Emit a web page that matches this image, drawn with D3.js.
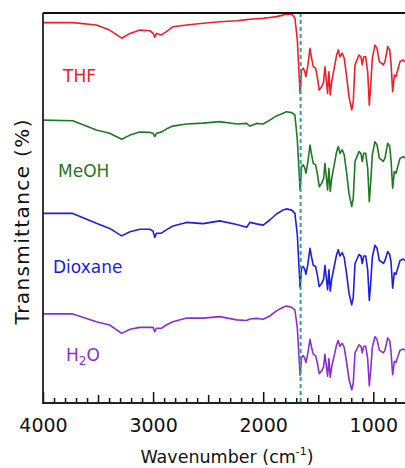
<!DOCTYPE html>
<html>
<head>
	<script type="text/javascript" src="https://cdn.jsdelivr.net/npm/d3@7/dist/d3.min.js"></script>
	<style type="text/css">
		body { margin: 0; background: #fff; }
		text { font-family: "DejaVu Sans", sans-serif; }
		.spectrum { fill: none; stroke-width: 1.6px; stroke-linejoin: round; }
	</style>
</head>
<body>
<script type="text/javascript">

var wavenumbers = [4000, 3730, 3515, 3395, 3285, 3210, 3120, 3030, 3000, 2985, 2970, 2925, 2880, 2820, 2695, 2545, 2395, 2240, 2150, 2120, 2060, 2000, 1940, 1880, 1820, 1790, 1740, 1712, 1690, 1665,
	1651, 1636, 1621, 1612, 1596, 1575, 1560, 1545, 1524, 1509, 1491, 1469, 1451, 1439, 1427, 1415, 1403, 1391, 1378, 1355, 1333, 1318, 1303, 1282, 1264, 1242, 1221, 1196, 1182, 1166,
	1142, 1130, 1112, 1100, 1087, 1069, 1051, 1036, 1021, 1009, 985, 966, 945, 924, 909, 894, 869, 851, 839, 824, 809, 794, 778, 757, 727, 712];

var thf = [126.8, 126.8, 126.0, 124.3, 121.6, 123.2, 124.3, 124.1, 123.2, 121.9, 123.2, 122.7, 123.8, 125.4, 126.0, 126.6, 127.1, 127.4, 127.8, 127.9, 128.1, 128.2, 128.5, 128.8, 129.3, 129.7, 129.6, 128.3, 121.0, 103.2,
	111.0, 111.6, 110.4, 108.8, 112.1, 118.2, 114.9, 112.1, 111.6, 108.8, 104.3, 105.4, 107.1, 112.1, 107.7, 103.2, 110.4, 102.7, 107.1, 111.6, 116.0, 117.7, 115.4, 116.6, 114.9, 108.8, 102.1, 97.7, 100.4, 112.7,
	114.9, 116.0, 115.4, 112.7, 115.4, 115.4, 110.4, 99.3, 107.1, 114.9, 119.3, 118.2, 113.8, 113.2, 112.7, 113.8, 118.8, 117.7, 113.2, 103.8, 109.3, 108.8, 111.0, 113.8, 114.3, 113.8];

var meoh = [94.3, 94.1, 91.0, 89.9, 87.9, 89.3, 90.3, 90.2, 89.9, 88.8, 89.9, 90.3, 91.3, 92.3, 93.0, 93.3, 93.8, 93.0, 93.2, 92.3, 93.2, 93.0, 94.3, 95.7, 96.6, 97.1, 96.8, 96.0, 87.7, 71.0,
	78.8, 79.4, 78.2, 76.6, 79.9, 86.0, 82.7, 79.9, 79.4, 76.6, 72.1, 73.2, 74.9, 79.9, 75.5, 71.0, 78.2, 70.5, 74.9, 79.4, 83.8, 85.5, 83.2, 84.4, 82.7, 76.6, 69.9, 65.5, 68.2, 80.5,
	82.7, 83.8, 83.2, 80.5, 83.2, 83.2, 78.2, 67.1, 74.9, 82.7, 87.1, 86.0, 81.6, 81.0, 80.5, 81.6, 86.6, 85.5, 81.0, 71.6, 77.1, 76.6, 78.8, 81.6, 82.1, 81.6];

var dioxane = [63.2, 63.2, 59.9, 58.2, 55.7, 57.1, 57.9, 57.9, 57.3, 55.2, 56.6, 56.6, 57.7, 59.0, 60.2, 59.8, 60.7, 59.5, 58.6, 60.2, 59.7, 59.3, 61.0, 63.0, 64.3, 64.7, 64.3, 63.2, 56.0, 38.5,
	44.9, 45.5, 44.4, 42.9, 45.9, 51.6, 48.5, 45.9, 45.5, 42.9, 38.8, 39.8, 41.3, 45.9, 41.9, 37.8, 44.4, 37.3, 41.3, 45.5, 49.5, 51.1, 49.0, 50.1, 48.5, 42.9, 36.7, 32.7, 35.2, 46.5,
	48.5, 49.5, 49.0, 46.5, 49.0, 49.0, 44.4, 34.2, 41.3, 48.5, 52.6, 51.6, 47.5, 47.0, 46.5, 47.5, 50.5, 49.5, 47.0, 38.3, 43.4, 42.9, 44.9, 47.5, 48.0, 47.5];

var water = [29.7, 29.7, 27.1, 26.0, 23.2, 24.6, 25.2, 25.2, 25.2, 23.8, 24.9, 24.9, 26.0, 27.1, 28.3, 28.3, 28.8, 27.7, 27.5, 28.0, 28.2, 27.9, 29.0, 30.7, 31.9, 32.3, 31.9, 31.0, 25.0, 9.3,
	15.3, 15.8, 14.8, 13.5, 16.2, 21.2, 18.5, 16.2, 15.8, 13.5, 9.8, 10.7, 12.1, 16.2, 12.6, 8.9, 14.8, 8.5, 12.1, 15.8, 19.4, 20.8, 18.9, 19.9, 18.5, 13.5, 8.0, 4.4, 6.6, 16.7,
	18.5, 19.4, 18.9, 16.7, 18.9, 18.9, 14.8, 5.7, 12.1, 18.5, 22.1, 21.2, 17.6, 17.1, 16.7, 17.6, 21.7, 20.8, 17.1, 9.4, 13.9, 13.5, 15.3, 17.6, 18.0, 17.6];

var solvents = ["THF", "MeOH", "Dioxane", "H2O"];
var colors = ["#ee2026", "#1e7a22", "#1c1ee0", "#8a2fd2"];
var labelTicks = [4000, 3000, 2000, 1000];
var markerWavenumber = 1660;

var width = 405,
	height = 468,
	plotLeft = 43,
	plotTop = 13,
	plotBottom = 403;

var svg = d3.select("body").append("svg")
	.attr("width", width)
	.attr("height", height);

var x = d3.scaleLinear().domain([4000, 712]).range([plotLeft, width]);
var y = d3.scaleLinear().domain([0, 130]).range([plotBottom, plotTop]);

svg.append("clipPath").attr("id", "plot")
  .append("rect")
	.attr("x", plotLeft)
	.attr("y", plotTop - 2)
	.attr("width", width - plotLeft)
	.attr("height", plotBottom - plotTop + 2);

var line = d3.line()
	.x(function(d) { return x(d[0]); })
	.y(function(d) { return y(d[1]); });

var series = [thf, meoh, dioxane, water];

svg.append("g").attr("clip-path", "url(#plot)").selectAll("path")
	.data(series)
  .enter().append("path")
	.attr("class", "spectrum")
	.attr("stroke", function(d, i) { return colors[i]; })
	.attr("d", function(d) {
		return line(d.map(function(v, i) { return [wavenumbers[i], v]; }));
	});

// dashed marker at the C=O band
svg.append("line")
	.attr("x1", x(markerWavenumber))
	.attr("x2", x(markerWavenumber))
	.attr("y1", plotTop)
	.attr("y2", plotBottom)
	.attr("stroke", "#3c9a9e")
	.attr("stroke-width", 2)
	.attr("stroke-dasharray", "4,3");

// ticks: minor every 100, medium at 500s, major with labels at 1000s
var minor = d3.range(3900, 712, -100).filter(function(t) { return t % 500 !== 0; });
var medium = [3500, 2500, 1500];

svg.append("g")
	.attr("transform", "translate(0," + plotBottom + ")")
	.call(d3.axisBottom(x).tickValues(minor).tickSize(-5).tickFormat(""))
	.call(function(g) { g.select(".domain").remove(); });

svg.append("g")
	.attr("transform", "translate(0," + plotBottom + ")")
	.call(d3.axisBottom(x).tickValues(medium).tickSize(-8).tickFormat(""))
	.call(function(g) { g.select(".domain").remove(); });

var xAxis = svg.append("g")
	.attr("transform", "translate(0," + plotBottom + ")")
	.call(d3.axisBottom(x).tickValues(labelTicks).tickSize(-11).tickPadding(16).tickFormat(d3.format("d")));
xAxis.select(".domain").remove();
xAxis.selectAll("text")
	.attr("fill", "#111")
	.style("font-family", "DejaVu Sans, sans-serif")
	.style("font-size", "19px");

svg.selectAll(".tick line").attr("stroke", "#111").attr("stroke-width", 1.5);

// frame: bottom, left and top
svg.append("path")
	.attr("d", "M" + plotLeft + "," + plotTop + "V" + plotBottom + "H" + width)
	.attr("fill", "none")
	.attr("stroke", "#222")
	.attr("stroke-width", 1.8);
svg.append("line")
	.attr("x1", plotLeft)
	.attr("x2", width)
	.attr("y1", plotTop)
	.attr("y2", plotTop)
	.attr("stroke", "#111")
	.attr("stroke-width", 2);

// solvent labels
var labelPos = [[63, 82], [58, 177], [53, 273], [66, 361]];
solvents.forEach(function(name, i) {
	var t = svg.append("text")
		.attr("x", labelPos[i][0])
		.attr("y", labelPos[i][1])
		.attr("fill", colors[i])
		.style("font-size", "17px");
	if (name === "H2O") {
		t.append("tspan").text("H");
		t.append("tspan").attr("dy", 4).style("font-size", "12px").text("2");
		t.append("tspan").attr("dy", -4).text("O");
	} else {
		t.text(name);
	}
});

// axis titles
var xTitle = svg.append("text")
	.attr("x", 227)
	.attr("y", 463)
	.attr("text-anchor", "middle")
	.attr("fill", "#111")
	.style("font-size", "17.5px");
xTitle.append("tspan").text("Wavenumber (cm");
xTitle.append("tspan").attr("dy", -8).style("font-size", "11px").text("-1");
xTitle.append("tspan").attr("dy", 8).text(")");

svg.append("text")
	.attr("transform", "rotate(-90)")
	.attr("x", -222)
	.attr("y", 29)
	.attr("text-anchor", "middle")
	.attr("fill", "#111")
	.attr("textLength", 205)
	.attr("lengthAdjust", "spacing")
	.style("font-size", "20px")
	.text("Transmittance (%)");

</script>
</body>
</html>
